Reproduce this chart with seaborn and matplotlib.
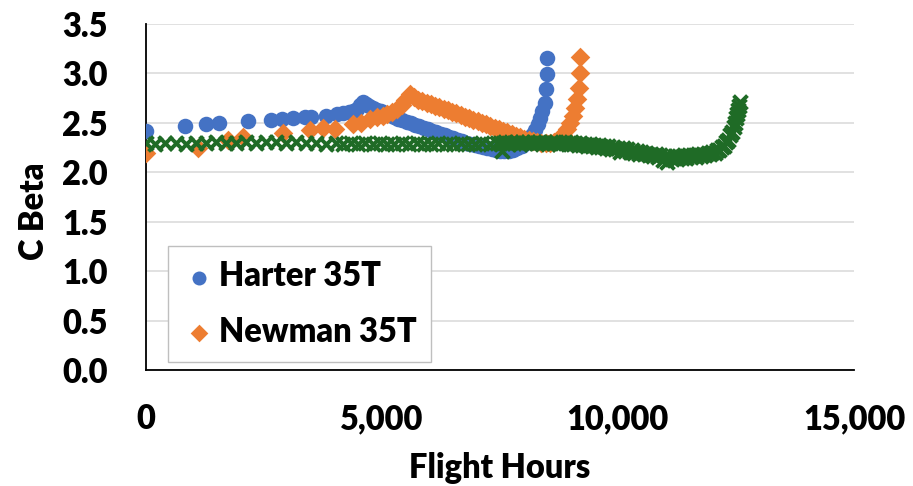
import matplotlib
matplotlib.use("Agg")
import matplotlib.pyplot as plt
from matplotlib.ticker import MultipleLocator, FuncFormatter
import seaborn as sns
import pandas as pd

# Harter 35T
harter_hours = [0, 835, 1280, 1555, 2170, 2655, 2890, 3120, 3380, 3500, 3820, 4050,
                4180, 4300, 4400, 4470, 4540, 4600, 4660, 4740, 4820, 4900, 4990,
                5080, 5170, 5260, 5350, 5440, 5530, 5620, 5710, 5800, 5890, 5980,
                6070, 6160, 6250, 6340, 6430, 6520, 6610, 6700, 6790, 6880, 6970,
                7060, 7150, 7240, 7330, 7420, 7510, 7600, 7690, 7780, 7870, 7960,
                8040, 8110, 8180, 8240, 8300, 8350, 8400, 8450, 8480, 8495, 8505]
harter_cbeta = [2.42, 2.47, 2.49, 2.50, 2.52, 2.53, 2.54, 2.55, 2.56, 2.56, 2.57, 2.59,
                2.60, 2.61, 2.62, 2.64, 2.68, 2.71, 2.69, 2.67, 2.65, 2.63, 2.62,
                2.60, 2.58, 2.56, 2.54, 2.53, 2.51, 2.50, 2.48, 2.47, 2.45, 2.44,
                2.42, 2.41, 2.39, 2.38, 2.36, 2.35, 2.33, 2.32, 2.30, 2.29, 2.28,
                2.27, 2.26, 2.25, 2.24, 2.23, 2.22, 2.22, 2.22, 2.23, 2.25, 2.27,
                2.30, 2.34, 2.38, 2.43, 2.49, 2.55, 2.62, 2.70, 2.84, 2.99, 3.16]

# Newman 35T
newman_hours = [0, 1120, 1750, 2060, 2900, 3480, 3750, 4010, 4390, 4560, 4750, 4900,
                5020, 5110, 5210, 5320, 5420, 5500, 5590, 5680, 5770, 5860, 5950,
                6040, 6130, 6220, 6310, 6400, 6490, 6580, 6670, 6760, 6850, 6940,
                7030, 7120, 7210, 7300, 7390, 7480, 7570, 7660, 7750, 7840, 7930,
                8020, 8110, 8200, 8290, 8380, 8470, 8560, 8650, 8740, 8830, 8920,
                8990, 9050, 9100, 9140, 9170, 9190, 9200]
newman_cbeta = [2.20, 2.25, 2.33, 2.36, 2.40, 2.43, 2.45, 2.44, 2.49, 2.50, 2.54, 2.56,
                2.57, 2.59, 2.61, 2.64, 2.68, 2.73, 2.79, 2.76, 2.73, 2.72, 2.70,
                2.69, 2.67, 2.66, 2.64, 2.63, 2.61, 2.60, 2.58, 2.56, 2.55, 2.53,
                2.52, 2.50, 2.49, 2.47, 2.45, 2.44, 2.42, 2.41, 2.39, 2.37, 2.36,
                2.34, 2.33, 2.32, 2.31, 2.30, 2.30, 2.30, 2.31, 2.34, 2.38, 2.44,
                2.50, 2.57, 2.65, 2.74, 2.85, 3.00, 3.17]

# Third fleet record (not listed in the legend)
fleet_hours = [0, 210, 420, 640, 850, 1060, 1270, 1490, 1700, 1910, 2120, 2340, 2550,
               2760, 2970, 3190, 3400, 3610, 3820, 4030,
               4190, 4340, 4500, 4650, 4810, 4960, 5120, 5270, 5430, 5580, 5740,
               5890, 6050, 6200, 6360, 6510, 6670, 6820, 6980, 7130, 7290, 7440,
               7500, 7550, 7560, 7620, 7680, 7740, 7800, 7860, 7920, 7980, 8040,
               8100, 8160, 8220, 8280, 8340, 8400, 8460, 8520, 8580, 8640, 8700,
               8760, 8820, 8880, 8940,
               9000, 9050, 9100, 9150, 9200, 9250, 9300, 9350, 9400, 9450, 9500,
               9550, 9600, 9650, 9700, 9750, 9800, 9850, 9900, 9950, 10000, 10050,
               10100, 10150, 10200, 10250, 10300, 10350, 10400, 10450, 10500, 10550,
               10600, 10650, 10700, 10750, 10800, 10850, 10900, 10950, 11000, 11050,
               11100, 11150, 11200, 11250, 11300, 11350, 11400, 11450, 11500, 11550,
               11600, 11650, 11700, 11750, 11800, 11850, 11900, 11950, 12000, 12050,
               12100, 12150, 12200, 12250, 12300, 12340, 12380, 12420, 12450, 12480,
               12510, 12530, 12550, 12570, 12590]
fleet_cbeta = [2.30, 2.29, 2.30, 2.30, 2.29, 2.30, 2.30, 2.31, 2.30, 2.30, 2.31, 2.30, 2.31,
               2.31, 2.30, 2.31, 2.30, 2.30, 2.29, 2.30,
               2.29, 2.30, 2.29, 2.30, 2.29, 2.30, 2.29, 2.29, 2.30, 2.29, 2.30,
               2.29, 2.29, 2.30, 2.29, 2.29, 2.30, 2.29, 2.29, 2.30, 2.29, 2.30,
               2.30, 2.22, 2.30, 2.31, 2.29, 2.31, 2.30, 2.31, 2.29, 2.31, 2.30,
               2.31, 2.29, 2.31, 2.30, 2.31, 2.30, 2.31, 2.29, 2.31, 2.30, 2.31,
               2.29, 2.30, 2.31, 2.29,
               2.31, 2.29, 2.30, 2.28, 2.30, 2.28, 2.29, 2.27, 2.29, 2.27, 2.28,
               2.26, 2.28, 2.26, 2.27, 2.25, 2.27, 2.24, 2.26, 2.24, 2.25, 2.21,
               2.25, 2.22, 2.24, 2.21, 2.23, 2.20, 2.22, 2.19, 2.21, 2.18,
               2.20, 2.17, 2.19, 2.16, 2.18, 2.15, 2.17, 2.12, 2.16, 2.10,
               2.15, 2.13, 2.16, 2.13, 2.16, 2.14, 2.17, 2.14, 2.17, 2.15,
               2.17, 2.15, 2.18, 2.16, 2.19, 2.17, 2.20, 2.18, 2.21, 2.20,
               2.23, 2.23, 2.26, 2.27, 2.31, 2.33, 2.38, 2.41, 2.46, 2.50,
               2.55, 2.59, 2.63, 2.67, 2.71]

x_ticks = [0, 5000, 10000, 15000]
y_ticks = [0.0, 0.5, 1.0, 1.5, 2.0, 2.5, 3.0, 3.5]

BLUE = "#4472C4"
ORANGE = "#ED7D31"
GREEN = "#1F6B26"
FONT = "Lato"
FS = 23.5
WEIGHT = "heavy"

sns.set_theme(style="white")
plt.rcParams["font.family"] = [FONT, "DejaVu Sans"]
plt.rcParams["font.weight"] = WEIGHT
plt.rcParams["text.color"] = "black"
plt.rcParams["xtick.color"] = "black"
plt.rcParams["ytick.color"] = "black"
plt.rcParams["axes.labelcolor"] = "black"

fig = plt.figure(figsize=(9.13, 4.86), dpi=100)
ax = fig.add_axes([0.1594, 0.2387, 0.7760, 0.7119])

harter = pd.DataFrame({"hours": harter_hours, "cbeta": harter_cbeta})
newman = pd.DataFrame({"hours": newman_hours, "cbeta": newman_cbeta})
fleet = pd.DataFrame({"hours": fleet_hours, "cbeta": fleet_cbeta})

sns.scatterplot(data=harter, x="hours", y="cbeta", ax=ax, color=BLUE, marker="o",
                s=125, linewidth=0, label="Harter 35T", zorder=3)
sns.scatterplot(data=newman, x="hours", y="cbeta", ax=ax, color=ORANGE, marker="D",
                s=100, linewidth=0, label="Newman 35T", zorder=4)
sns.scatterplot(data=fleet, x="hours", y="cbeta", ax=ax, color=GREEN, marker="x",
                s=100, linewidth=2.8, zorder=5)

ax.set_xlim(0, 15000)
ax.set_ylim(0, 3.5)
ax.set_xticks(x_ticks)
ax.xaxis.set_minor_locator(MultipleLocator(1000))
ax.set_yticks(y_ticks)
ax.xaxis.set_major_formatter(FuncFormatter(lambda v, p: f"{int(v):,}"))
ax.yaxis.set_major_formatter(FuncFormatter(lambda v, p: f"{v:.1f}"))

ax.grid(axis="y", color="#D9D9D9", linewidth=1.1, zorder=0)
ax.grid(axis="x", visible=False)
ax.set_axisbelow(True)
for side in ("top", "right"):
    ax.spines[side].set_visible(False)
for side in ("left", "bottom"):
    ax.spines[side].set_color("black")
    ax.spines[side].set_linewidth(1.3)

ax.tick_params(axis="x", which="major", direction="inout", length=14, width=1.3,
               color="black", pad=17, labelsize=FS)
ax.tick_params(axis="x", which="minor", direction="in", length=4, width=1.0,
               color="black")
ax.tick_params(axis="y", which="major", length=0, pad=27, labelsize=FS)
for lab in ax.get_xticklabels() + ax.get_yticklabels():
    lab.set_fontweight(WEIGHT)

ax.set_xlabel("Flight Hours", fontsize=FS, fontweight=WEIGHT, labelpad=12)
ax.set_ylabel("C Beta", fontsize=FS, fontweight=WEIGHT)
ax.yaxis.set_label_coords(-0.135, 0.46)

leg = ax.legend(loc="lower left", bbox_to_anchor=(0.032, 0.022), fontsize=FS,
                frameon=True, fancybox=False, edgecolor="#BFBFBF",
                framealpha=1.0, borderpad=0.45, labelspacing=0.72,
                handletextpad=0.1, handlelength=1.0, borderaxespad=0.0,
                markerscale=0.9)
leg.get_frame().set_linewidth(1.0)
for t in leg.get_texts():
    t.set_fontweight(WEIGHT)
leg.set_zorder(6)

fig.savefig("out.png", dpi=100)
